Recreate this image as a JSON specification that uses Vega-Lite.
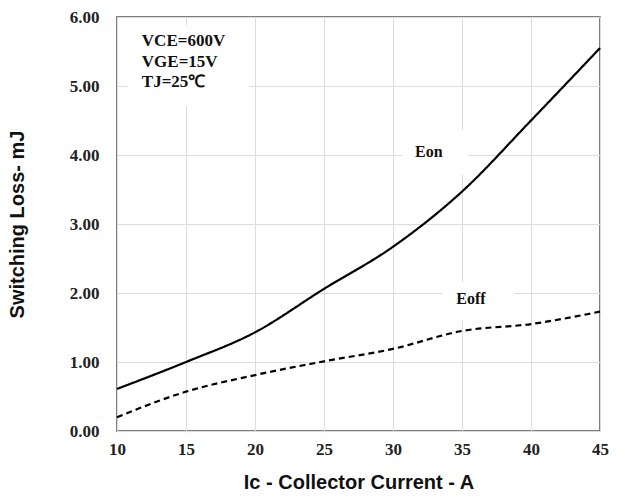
{
  "$schema": "https://vega.github.io/schema/vega-lite/v6.json",
  "width": 483,
  "height": 414,
  "autosize": "none",
  "padding": {"left": 117, "top": 17, "right": 25, "bottom": 69},
  "background": "white",
  "config": {
    "view": {"stroke": "#555", "strokeWidth": 1.5},
    "axis": {
      "grid": true,
      "gridColor": "#dcdcdc",
      "gridWidth": 1,
      "domain": false,
      "ticks": false,
      "labelFont": "Liberation Serif",
      "labelFontWeight": "bold",
      "labelFontSize": 17,
      "labelColor": "#222",
      "labelFlush": false,
      "titleFont": "Liberation Sans",
      "titleFontWeight": "bold",
      "titleFontSize": 20,
      "titleColor": "#111"
    }
  },
  "datasets": {
    "curves": [
      {"ic": 10, "loss": 0.61, "series": "Eon"},
      {"ic": 15, "loss": 1.0, "series": "Eon"},
      {"ic": 20, "loss": 1.43, "series": "Eon"},
      {"ic": 25, "loss": 2.06, "series": "Eon"},
      {"ic": 30, "loss": 2.67, "series": "Eon"},
      {"ic": 35, "loss": 3.47, "series": "Eon"},
      {"ic": 40, "loss": 4.5, "series": "Eon"},
      {"ic": 45, "loss": 5.55, "series": "Eon"},
      {"ic": 10, "loss": 0.2, "series": "Eoff"},
      {"ic": 15, "loss": 0.57, "series": "Eoff"},
      {"ic": 20, "loss": 0.81, "series": "Eoff"},
      {"ic": 25, "loss": 1.01, "series": "Eoff"},
      {"ic": 30, "loss": 1.19, "series": "Eoff"},
      {"ic": 35, "loss": 1.45, "series": "Eoff"},
      {"ic": 40, "loss": 1.55, "series": "Eoff"},
      {"ic": 45, "loss": 1.73, "series": "Eoff"}
    ],
    "boxes": [
      {"x": 10.8, "x2": 19.6, "y": 5.88, "y2": 4.71},
      {"x": 30.65, "x2": 35.45, "y": 4.36, "y2": 3.71},
      {"x": 33.6, "x2": 38.8, "y": 2.16, "y2": 1.6}
    ],
    "notes": [
      {"x": 11.8, "y": 5.65, "label": "VCE=600V"},
      {"x": 11.8, "y": 5.35, "label": "VGE=15V"},
      {"x": 11.8, "y": 5.06, "label": "TJ=25℃"}
    ],
    "curveLabels": [
      {"x": 32.6, "y": 4.04, "label": "Eon"},
      {"x": 35.65, "y": 1.91, "label": "Eoff"}
    ]
  },
  "layer": [
    {
      "data": {"name": "boxes"},
      "mark": {"type": "rect", "color": "white"},
      "encoding": {
        "x": {"field": "x", "type": "quantitative", "scale": {"domain": [10, 45], "nice": false}, "axis": {"values": [10, 15, 20, 25, 30, 35, 40, 45], "title": "Ic - Collector Current - A", "labelPadding": 10, "titlePadding": 15}},
        "x2": {"field": "x2"},
        "y": {"field": "y", "type": "quantitative", "scale": {"domain": [0, 6], "nice": false}, "axis": {"values": [0, 1, 2, 3, 4, 5, 6], "format": ".2f", "title": "Switching Loss- mJ", "labelPadding": 18, "titlePadding": 42}},
        "y2": {"field": "y2"}
      }
    },
    {
      "data": {"name": "curves"},
      "mark": {"type": "line", "color": "black", "strokeWidth": 2.2, "interpolate": "monotone"},
      "encoding": {
        "x": {"field": "ic", "type": "quantitative"},
        "y": {"field": "loss", "type": "quantitative"},
        "detail": {"field": "series"},
        "strokeDash": {"field": "series", "type": "nominal", "scale": {"domain": ["Eon", "Eoff"], "range": [[1, 0], [6, 4]]}, "legend": null}
      }
    },
    {
      "data": {"name": "notes"},
      "mark": {"type": "text", "align": "left", "baseline": "middle", "font": "Liberation Serif", "fontWeight": "bold", "fontSize": 17, "color": "#111"},
      "encoding": {
        "x": {"field": "x", "type": "quantitative"},
        "y": {"field": "y", "type": "quantitative"},
        "text": {"field": "label"}
      }
    },
    {
      "data": {"name": "curveLabels"},
      "mark": {"type": "text", "align": "center", "baseline": "middle", "font": "Liberation Serif", "fontWeight": "bold", "fontSize": 16, "color": "#111"},
      "encoding": {
        "x": {"field": "x", "type": "quantitative"},
        "y": {"field": "y", "type": "quantitative"},
        "text": {"field": "label"}
      }
    }
  ]
}
